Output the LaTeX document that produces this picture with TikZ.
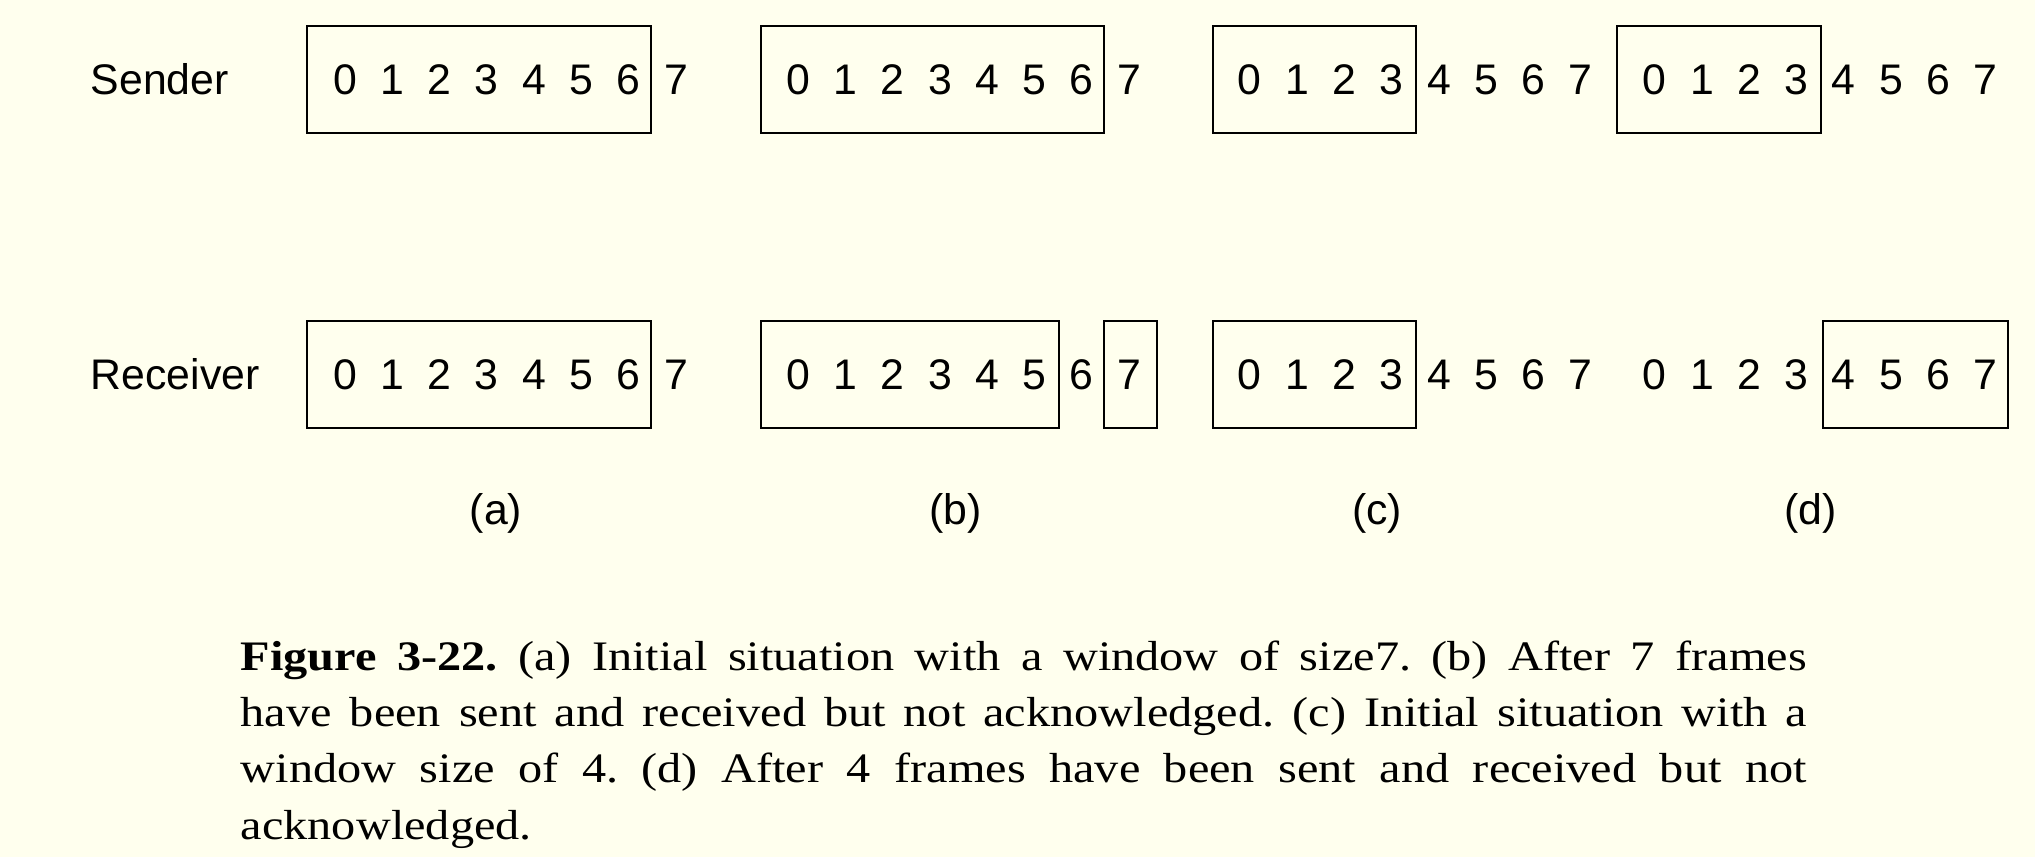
\documentclass[tikz,border=0pt]{standalone}
\usepackage{fontspec}
\setsansfont{Liberation Sans}
\newfontfamily\capfont[FakeStretch=1.15]{Liberation Serif}
\usetikzlibrary{calc}
\definecolor{paper}{RGB}{255,255,238}
\tikzset{
  sw digit/.style={font=\sffamily\fontsize{10.7}{12}\selectfont,inner sep=0pt,anchor=base},
  sw label/.style={font=\sffamily\fontsize{10.7}{12}\selectfont,inner sep=0pt,anchor=base west},
  sw part/.style={font=\sffamily\fontsize{10.7}{12}\selectfont,inner sep=0pt,anchor=base},
  sw box/.style={draw=black,line width=0.5pt}
}
% one row of sequence numbers 0..7, named #1-0 ... #1-7
\newcommand{\swrow}[3]{%
  \foreach \i in {0,...,7}
    \node[sw digit] (#1-\i) at ({#2+\i*47.28},#3) {\i};%
}

\begin{document}
\frenchspacing
\begin{tikzpicture}[x=0.25pt,y=-0.25pt]
  \fill[paper] (0,0) rectangle (2035,857);
  \useasboundingbox (0,0) rectangle (2035,857);

  \node[sw label] (sender) at (90,94.3) {Sender};
  \node[sw label] (receiver) at (90,389.3) {Receiver};

  \swrow{sa}{345}{94.3}
  \swrow{sb}{798.2}{94.3}
  \swrow{sc}{1249.8}{94.3}
  \swrow{sd}{1654.7}{94.3}
  \swrow{ra}{345}{389.3}
  \swrow{rb}{798.2}{389.3}
  \swrow{rc}{1249.8}{389.3}
  \swrow{rd}{1654.7}{389.3}

  % sender windows
  \draw[sw box] ($(sa-0)+(-38,-53.2)$) rectangle ($(sa-6)+(22,53.2)$);
  \draw[sw box] ($(sb-0)+(-37.7,-53.2)$) rectangle ($(sb-6)+(22.5,53.2)$);
  \draw[sw box] ($(sc-0)+(-36.5,-53.2)$) rectangle ($(sc-3)+(24.3,53.2)$);
  \draw[sw box] ($(sd-0)+(-37.7,-53.2)$) rectangle ($(sd-3)+(24.3,53.2)$);
  % receiver windows
  \draw[sw box] ($(ra-0)+(-38,-53.2)$) rectangle ($(ra-6)+(22,53.2)$);
  \draw[sw box] ($(rb-0)+(-37.7,-53.2)$) rectangle ($(rb-5)+(24.4,53.2)$);
  \draw[sw box] ($(rb-7)+(-25.2,-53.2)$) rectangle ($(rb-7)+(27.5,53.2)$);
  \draw[sw box] ($(rc-0)+(-36.5,-53.2)$) rectangle ($(rc-3)+(24.3,53.2)$);
  \draw[sw box] ($(rd-4)+(-20.4,-53.2)$) rectangle ($(rd-7)+(22,53.2)$);

  \node[sw part] (part-a) at (496,524) {(a)};
  \node[sw part] (part-b) at (955.2,524) {(b)};
  \node[sw part] (part-c) at (1377,524) {(c)};
  \node[sw part] (part-d) at (1810.4,524) {(d)};

  \node[anchor=base west,inner sep=0pt,text width=391.5pt,align=justify,
    font=\capfont\fontsize{10.5}{14.1}\selectfont] (caption) at (240,670)
    {\textbf{Figure 3-22.} (a) Initial situation with a window of size7. (b) After 7 frames\linebreak
     have been sent and received but not acknowledged. (c) Initial situation with a\linebreak
     window size of 4. (d) After 4 frames have been sent and received but not\linebreak
     acknowledged.};
\end{tikzpicture}
\end{document}
